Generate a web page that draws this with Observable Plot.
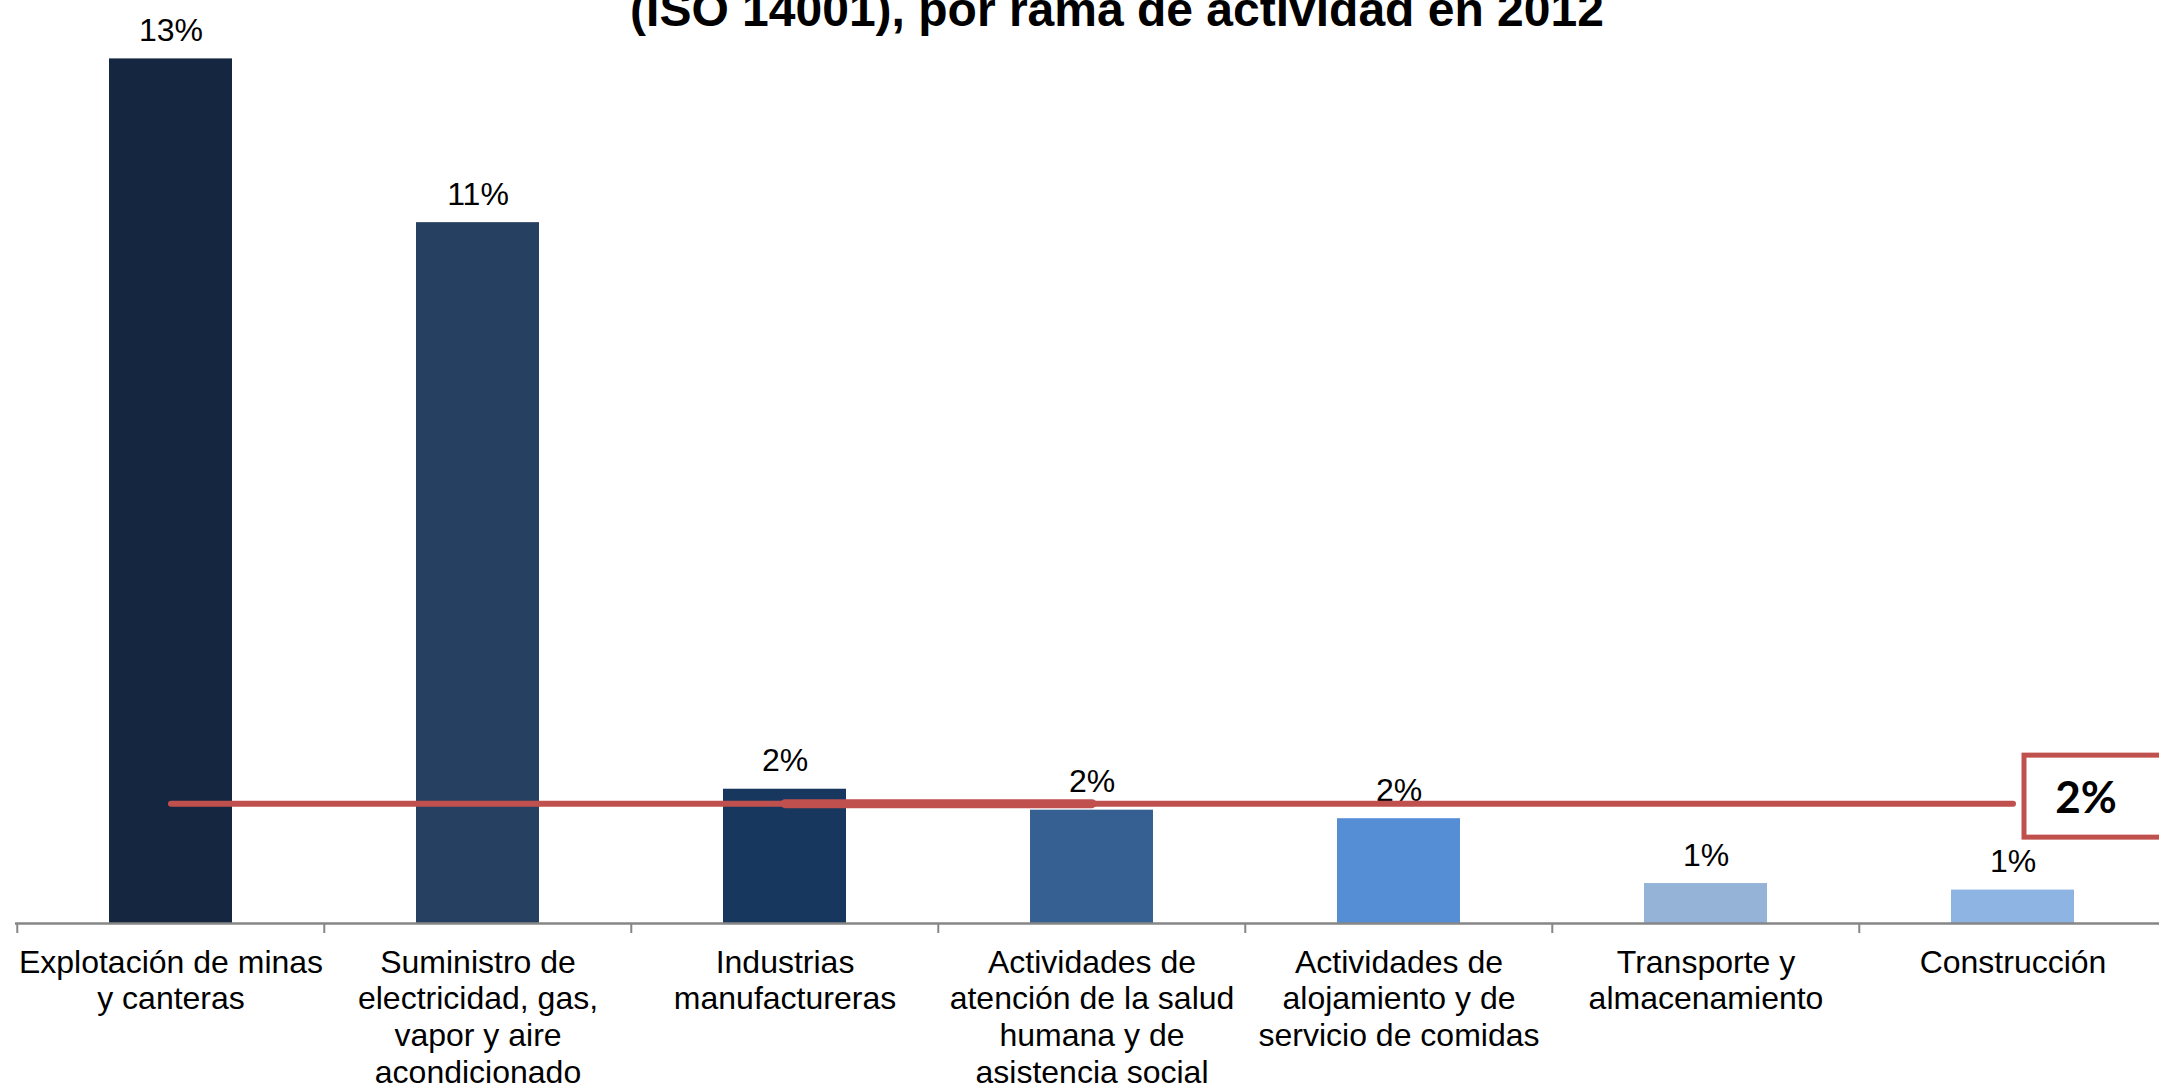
<!DOCTYPE html>
<html>
<head>
<meta charset="utf-8">
<script src="https://cdn.jsdelivr.net/npm/d3@7"></script>
<script src="https://cdn.jsdelivr.net/npm/@observablehq/plot@0.6"></script>
<style>
  html, body { margin: 0; padding: 0; background: #ffffff; overflow: hidden; }
  #wrap { position: relative; width: 2159px; height: 1085px; overflow: hidden; }
  #title {
    position: absolute; left: 1117px; top: -14px; transform: translateX(-50%);
    white-space: nowrap; font-family: "Liberation Sans", Arial, sans-serif;
    font-weight: bold; font-size: 48px; line-height: 48px; color: #000;
  }
  #chart { position: absolute; left: 0; top: 0; }
</style>
</head>
<body>
<div id="wrap">
  <div id="chart"></div>
  <div id="title">(ISO 14001), por rama de actividad en 2012</div>
</div>
<script>
// Categories (ramas de actividad)
const categories = [
  "Explotación de minas y canteras",
  "Suministro de electricidad, gas, vapor y aire acondicionado",
  "Industrias manufactureras",
  "Actividades de atención de la salud humana y de asistencia social",
  "Actividades de alojamiento y de servicio de comidas",
  "Transporte y almacenamiento",
  "Construcción"
];
// Tick labels as wrapped in the reference
const tickLabels = [
  "Explotación de minas\ny canteras",
  "Suministro de\nelectricidad, gas,\nvapor y aire\nacondicionado",
  "Industrias\nmanufactureras",
  "Actividades de\natención de la salud\nhumana y de\nasistencia social",
  "Actividades de\nalojamiento y de\nservicio de comidas",
  "Transporte y\nalmacenamiento",
  "Construcción"
];
// Percent values
const values = [13.2, 10.7, 2.05, 1.73, 1.60, 0.61, 0.51];
// Bar colours
const colors = ["#142640", "#254061", "#17375E", "#376092", "#558ED5", "#95B3D7", "#8EB4E3"];
// Average (promedio) line
const promedio = 1.83;
const promedioLabel = "2%";

const data = categories.map((c, i) => ({cat: c, value: values[i], color: colors[i], label: Math.round(values[i]) + "%"}));
const labelOf = new Map(categories.map((c, i) => [c, tickLabels[i]]));

const W = 2159, H = 1085;
const x0 = 15, x1 = 2167;
const step = (x1 - x0) / categories.length;
const red = "#C0504D";
const font = '"Liberation Sans", Arial, sans-serif';

const chart = Plot.plot({
  width: W,
  height: H,
  marginLeft: x0,
  marginRight: 0,
  marginTop: 0,
  marginBottom: H - 923,
  style: {fontFamily: font, background: "white", overflow: "visible"},
  x: {domain: categories, range: [x0, x1], paddingInner: 0.6, paddingOuter: 0.3, axis: null},
  y: {domain: [0, 14], range: [923, 6], axis: null},
  marks: [
    Plot.barY(data, {x: "cat", y: "value", fill: "color"}),
    Plot.ruleY([0], {stroke: "#868686", strokeWidth: 2.5}),
    Plot.axisX({tickSize: 10, tickFormat: () => "", label: null, dx: -step / 2, stroke: "#868686", strokeWidth: 2}),
    Plot.axisX({tickSize: 0, tickPadding: 23, label: null, tickFormat: d => labelOf.get(d), fontSize: 32, lineHeight: 1.15, lineAnchor: "top", fill: "#000", textOverflow: null}),
    Plot.text(data, {x: "cat", y: "value", text: "label", dy: -28, fontSize: 32, fill: "#000"}),
    Plot.lineY([{cat: categories[0], v: promedio}, {cat: categories[categories.length - 1], v: promedio}],
      {x: "cat", y: "v", stroke: red, strokeWidth: 6, strokeLinecap: "round"}),
    Plot.lineY([{cat: categories[2], v: promedio}, {cat: categories[3], v: promedio}],
      {x: "cat", y: "v", stroke: red, strokeWidth: 9, strokeLinecap: "round"}),
    Plot.barY([promedio], {x: () => categories[categories.length - 1], y1: d => d, y2: d => d,
      insetTop: -48, insetBottom: -34, insetLeft: 73, insetRight: -100,
      fill: "white", stroke: red, strokeWidth: 5}),
    Plot.text([promedioLabel], {x: () => categories[categories.length - 1], y: () => promedio, text: d => d,
      dx: 73, dy: -5, fontSize: 44, fontWeight: "bold", fontFamily: "Lato, 'Open Sans', sans-serif", fill: "#000"})
  ]
});
document.getElementById("chart").appendChild(chart);
</script>
</body>
</html>
